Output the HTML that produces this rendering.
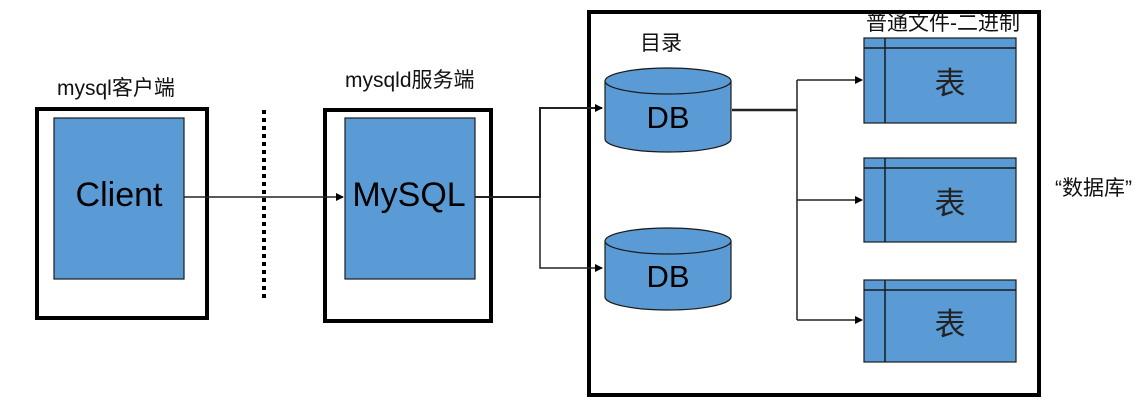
<!DOCTYPE html>
<html><head><meta charset="utf-8"><style>
html,body{margin:0;padding:0;background:#fff;width:1142px;height:403px;overflow:hidden}
svg text{font-family:"Liberation Sans","Noto Sans CJK SC",sans-serif}
</style></head><body>
<svg width="1142" height="403" viewBox="0 0 1142 403" xmlns="http://www.w3.org/2000/svg">
<defs><marker id="a" markerWidth="8" markerHeight="8" refX="7" refY="4" orient="auto" markerUnits="userSpaceOnUse"><path d="M0,0 L8,4 L0,8z" fill="#000"/></marker></defs>
<g fill="none" stroke="#000" stroke-width="4">
<rect x="37" y="109" width="170" height="209"/>
<rect x="325" y="110" width="166" height="211"/>
<rect x="589" y="12" width="450" height="383"/>
</g>
<line x1="264" y1="110" x2="264" y2="298" stroke="#000" stroke-width="4" stroke-dasharray="4,4"/>
<g fill="#5b9bd5" stroke="#1a1a1a" stroke-width="1.2">
<rect x="54" y="118" width="130" height="161"/>
<rect x="345" y="118" width="130" height="161"/>
</g>
<g font-size="34" fill="#000" text-anchor="middle">
<text x="119" y="206">Client</text>
<text x="409" y="206">MySQL</text>
</g>
<g stroke="#222" stroke-width="1.5" fill="none">
<line x1="184" y1="197" x2="343" y2="197" marker-end="url(#a)"/>
<path d="M475 197 H540 V108 H602" marker-end="url(#a)" stroke-width="2"/>
<path d="M540 197 V268 H602" marker-end="url(#a)"/>
<path d="M732 110 H797" stroke-width="2.5"/>
<path d="M797 80 V320"/>
<path d="M797 80 H862" marker-end="url(#a)"/>
<path d="M797 200 H862" marker-end="url(#a)"/>
<path d="M797 320 H862" marker-end="url(#a)"/>
</g>
<g fill="#5b9bd5" stroke="#1a1a1a" stroke-width="1.2">
<path d="M605 81 V139 A63 13 0 0 0 731 139 V81"/>
<ellipse cx="668" cy="81" rx="63" ry="13"/>
<path d="M605 241 V297 A63 13 0 0 0 731 297 V241"/>
<ellipse cx="668" cy="241" rx="63" ry="13"/>
</g>
<g font-size="31" text-anchor="middle" fill="#000">
<text x="668" y="128">DB</text>
<text x="668" y="287">DB</text>
</g>
<g fill="#5b9bd5" stroke="#1a1a1a" stroke-width="1.2">
<rect x="864" y="38" width="152" height="85"/>
<rect x="864" y="158" width="152" height="84"/>
<rect x="864" y="280" width="152" height="82"/>
</g>
<g stroke="#1a1a1a" stroke-width="1.5">
<line x1="864" y1="48" x2="1016" y2="48"/><line x1="885" y1="38" x2="885" y2="123"/>
<line x1="864" y1="168" x2="1016" y2="168"/><line x1="885" y1="158" x2="885" y2="242"/>
<line x1="864" y1="290" x2="1016" y2="290"/><line x1="885" y1="280" x2="885" y2="362"/>
</g>
<g font-size="31" text-anchor="middle" fill="#222" style="font-family:'Noto Serif CJK SC',serif">
<text x="950" y="94">表</text>
<text x="950" y="214">表</text>
<text x="950" y="335">表</text>
</g>
<g font-size="21" fill="#111">
<text x="57" y="95">mysql客户端</text>
<text x="345" y="87">mysqld服务端</text>
<text x="640" y="50">目录</text>
<text x="866" y="30">普通文件-二进制</text>
<text x="1055" y="195">“数据库”</text>
</g>
</svg>
</body></html>
